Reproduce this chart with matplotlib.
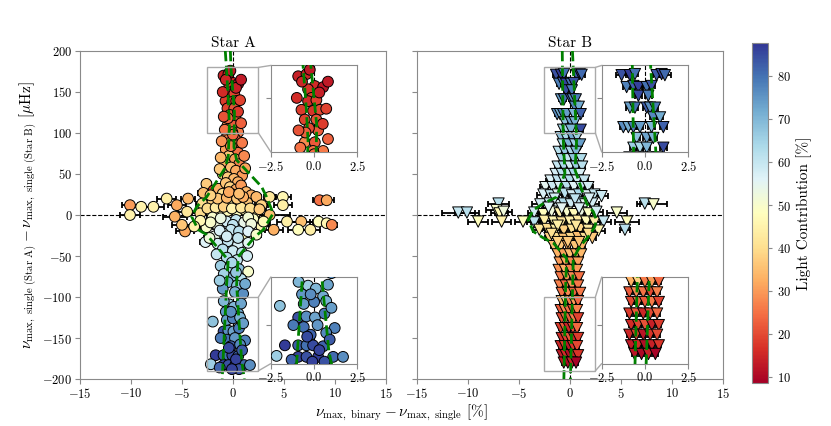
import numpy as np
import matplotlib.pyplot as plt
from matplotlib.patches import Rectangle, ConnectionPatch

plt.rcParams['font.family'] = ['cmr10', 'DejaVu Serif']
plt.rcParams['mathtext.fontset'] = 'cm'
plt.rcParams['axes.formatter.use_mathtext'] = True
plt.rcParams['axes.unicode_minus'] = True

# ---------------- Star A (circles) ----------------
a_dx = [-0.92, -0.44, -0.25, 0.04, 0.52, -0.35, -0.15, -0.35, 0.13, -0.73, -0.06, 0.33,
        -0.54, 0.13, 0.23, -0.30, -0.54, 0.04, 0.52, -0.06, -0.70, 0.30, -0.50, 0.50,
        -0.6, 0.2, -0.3, 0.4, -0.7, 0.0, 0.5, -0.4, 0.2, -0.8, 0.6, -0.2, 0.3, -1.0, 0.9, -0.5, 0.1, 0.5,
        -2.6, -1.9, -2.9, -1.4, -0.7, -0.3, 0.3, 0.8, 1.3, -1.0, 0.0, 1.8, 2.3, 3.6, 4.9, -6.5, -4.4,
        -10.1, -9.0, -7.8, -5.5, -3.0, -2.0, -1.2, -0.4, 0.5, 1.4, 2.8, 4.9, 8.5, 9.2,
        -10.1, -5.7, -4.5, -3.2, -2.2, -1.3, -0.5, 0.4, 1.2, 2.2, 3.6,
        -4.7, -5.0, -2.6, -1.5, -0.6, 0.3, 0.0, 1.1, 2.0, 5.3, 6.7, 8.4, 9.2, 9.7, 6.4, 7.6,
        4.0, 2.8, -0.2, 0.6, -1.0, 1.3, -1.8,
        -2.7, -1.5, -0.5, 0.5, 1.5, -1.0, 0.0, 0.9, -0.6, 0.4, -1.2, -0.3, 0.6, 1.5, -0.9, 0.1,
        0.8, -0.5, 0.4, -1.0, 0.2, 1.0,
        -0.35, 0.52, -0.7, 0.1, -1.98, -0.6, 0.0, 0.7, -0.92, -0.45, 0.05, 0.6, 1.19, -0.6,
        0.2, -0.2, 0.7, -1.69, -0.92, -0.44, -0.06, 0.52, -2.17, -0.92, -0.44, 0.23, 1.1, 1.67,
        # extra points filling the dense centre and the two columns
        -2.5, -1.7, -0.9, -0.1, 0.8, 1.7, 2.6, -1.5, -0.6, 0.4, 1.0, -2.2, -0.4, 0.6,
        -2.0, -1.2, 1.5, -2.2, 1.8, -1.3, 1.5, -0.6, 0.5, -2.3, 2.3, 3.0, -3.2, -3.8,
        -1.1, 0.9, -1.2, 1.1, -1.3, 1.2, 0.0, -0.2,
        -1.6, 1.4, -1.3, 1.2, -0.1, 0.3,
        -0.9, 0.8, -0.2, 1.0, -1.2, 0.9, -0.4, 0.3, -1.3, 0.6, -0.1,
        0.8, -1.0, 0.7, -0.9, 0.8, -0.8]
a_dnu = [170, 172, 176, 161, 160, 158, 150, 147, 148, 139, 138, 139,
         130, 130, 120, 122, 109, 109, 101, 101, 165, 155, 118, 126,
         95, 93, 88, 85, 80, 78, 76, 72, 68, 64, 62, 58, 54, 50, 48, 46, 44, 40,
         38, 30, 27, 32, 39, 34, 31, 36, 28, 26, 25, 24, 22, 22, 22, 20, 20,
         12, 10, 10, 12, 14, 16, 14, 15, 13, 15, 12, 12, 18, 18,
         0, -2, 4, 2, 5, 3, 5, 4, 6, 3, 0,
         -20, -12, -15, -13, -8, -6, -12, -9, -5, -8, -8, -8, -10, -12, -18, -18,
         -18, -14, -18, -20, -22, -28, -26,
         -33, -35, -32, -36, -34, -42, -44, -46, -52, -55, -62, -64, -66, -69, -72, -74,
         -78, -82, -86, -90, -94, -96,
         -109, -120, -118, -112, -130, -128, -126, -125, -142, -141, -142, -138, -153, -152,
         -150, -160, -158, -171, -171, -171, -171, -172, -182, -183, -183, -183, -183, -183,
         8, 9, 10, 8, 9, 8, 7, 20, 21, 20, 22, 24, 28, 26,
         -3, -4, -3, -9, -11, -19, -20, -26, -28, -28, -24, -8, -7, -14,
         90, 88, 70, 72, 56, 57, 98, 84,
         -48, -50, -80, -84, -58, -70,
         -105, -108, -118, -132, -150, -165, -162, -176, -186, -188, -188,
         165, 150, 140, 120, 112, 104]
a_err = [0.20, 0.15, 0.20, 0.15, 0.20, 0.15, 0.15, 0.20, 0.15, 0.20, 0.15, 0.15,
         0.20, 0.15, 0.15, 0.20, 0.20, 0.15, 0.20, 0.15, 0.20, 0.15, 0.20, 0.15,
         0.2, 0.2, 0.2, 0.2, 0.3, 0.2, 0.2, 0.2, 0.2, 0.3, 0.2, 0.2, 0.2, 0.3, 0.3, 0.2, 0.2, 0.2,
         0.4, 0.3, 0.5, 0.3, 0.2, 0.2, 0.2, 0.3, 0.3, 0.3, 0.3, 0.4, 0.5, 0.6, 0.8, 0.9, 0.7,
         0.8, 0.9, 1.0, 0.9, 0.6, 0.5, 0.4, 0.3, 0.3, 0.4, 0.6, 0.9, 0.6, 0.7,
         1.0, 1.2, 0.9, 0.8, 0.6, 0.5, 0.4, 0.4, 0.5, 0.7, 2.0,
         0.9, 1.0, 0.6, 0.5, 0.4, 0.3, 0.3, 0.4, 0.6, 1.0, 1.2, 0.8, 0.6, 0.5, 1.0, 0.9,
         0.9, 0.7, 0.3, 0.3, 0.4, 0.5, 0.5,
         0.5, 0.4, 0.3, 0.3, 0.4, 0.3, 0.3, 0.3, 0.2, 0.2, 0.3, 0.2, 0.2, 0.3, 0.2, 0.2,
         0.2, 0.2, 0.2, 0.2, 0.2, 0.2,
         0.15, 0.15, 0.15, 0.15, 0.20, 0.15, 0.15, 0.15, 0.20, 0.15, 0.15, 0.15, 0.20, 0.15,
         0.15, 0.15, 0.15, 0.20, 0.15, 0.15, 0.15, 0.15, 0.20, 0.15, 0.15, 0.15, 0.15, 0.20,
         0.6, 0.5, 0.4, 0.3, 0.4, 0.5, 0.6, 0.4, 0.3, 0.3, 0.3, 0.5, 0.3, 0.3,
         0.5, 0.4, 0.4, 0.5, 0.5, 0.4, 0.4, 0.3, 0.3, 0.5, 0.5, 0.6, 0.7, 0.8,
         0.2, 0.2, 0.2, 0.2, 0.3, 0.3, 0.2, 0.2,
         0.3, 0.3, 0.2, 0.2, 0.2, 0.2,
         0.15, 0.15, 0.15, 0.15, 0.15, 0.15, 0.15, 0.15, 0.15, 0.15, 0.15,
         0.15, 0.15, 0.15, 0.15, 0.15, 0.15]
a_light = [14, 15, 13, 16, 12, 17, 18, 16, 19, 18, 17, 20,
           19, 21, 22, 20, 28, 22, 26, 25, 15, 14, 23, 18,
           27, 24, 30, 23, 31, 28, 25, 36, 30, 33, 27, 35, 32, 38, 30, 37, 34, 33,
           37, 18, 35, 33, 36, 38, 32, 30, 34, 40, 42, 33, 34, 42, 46, 44, 34,
           30, 45, 45, 32, 40, 38, 42, 44, 40, 36, 38, 44, 25, 32,
           45, 33, 42, 40, 44, 46, 47, 48, 45, 43, 35,
           32, 36, 50, 52, 58, 60, 61, 54, 49, 44, 35, 48, 46, 28, 48, 44,
           33, 46, 60, 62, 55, 48, 54,
           56, 58, 60, 57, 55, 62, 59, 61, 63, 60, 66, 64, 68, 50, 65, 70,
           62, 72, 68, 74, 71, 76,
           66, 72, 75, 70, 68, 74, 78, 71, 84, 76, 73, 79, 78, 80,
           75, 82, 77, 87, 83, 80, 85, 82, 66, 86, 84, 87, 81, 76,
           40, 43, 38, 45, 42, 40, 37, 36, 34, 37, 33, 38, 32, 35,
           50, 53, 51, 50, 52, 57, 56, 58, 60, 52, 50, 47, 46, 45,
           29, 26, 34, 28, 37, 31, 24, 27,
           60, 58, 66, 72, 64, 67,
           70, 73, 76, 74, 79, 83, 85, 86, 82, 84, 86,
           13, 16, 19, 21, 23, 25]

# ---------------- Star B (triangles) ----------------
b_dx = [-1.35, -0.87, -0.58, 0.67, 0.96, 1.15,
        -1.06, -0.67, -0.38, 0.10, 0.38,
        -0.38, 0.19,
        -0.87, -0.58, 0.10, 0.29, 0.58,
        0.48, 0.87,
        -1.25, -0.96, -0.67, -0.29, 0.38, 1.06,
        -0.48, 0.10, 0.48,
        -0.67, -0.29, 0.10, 1.06,
        -0.9, -0.4, 0.2, 0.7,
        -0.7, -0.1, 0.5, 1.0,
        -1.1, -0.5, 0.1, 0.6,
        -0.8, -0.2, 0.4, 1.1,
        -1.2, -0.6, 0.0, 0.6, 1.2,
        -1.4, -0.8, -0.2, 0.4, 1.0,
        -1.9, -1.2, -0.6, 0.0, 0.7, 1.4,
        -2.4, -1.7, -1.0, -0.3, 0.4, 1.1, 1.8,
        -2.6, -1.9, -1.2, -0.5, 0.2, 0.9, 1.6, 2.4, 3.1,
        -7.0, -2.9, -2.0, -1.3, -0.6, 0.1, 0.8, 1.5, 2.2, 7.35, 8.2,
        -10.95, -10.1, -7.2, -6.9, -6.5, -3.5, -2.6, -1.8, -1.0, -0.3, 0.4, 1.1, 1.8, 2.6, 4.6,
        -9.0, -6.7, -4.6, -3.5, -2.5, -1.6, -0.8, 0.0, 0.8, 1.6, 2.4, 3.3, 5.6,
        -3.0, -2.2, -1.4, -0.6, 0.2, 1.0, 1.8, 2.8, 5.4,
        -2.0, -1.3, -0.6, 0.1, 0.8, 1.5, 2.2,
        -1.6, -0.9, -0.2, 0.5, 1.2,
        -1.2, -0.6, 0.0, 0.6, 1.1,
        -1.0, -0.4, 0.2, 0.8,
        -1.1, -0.5, 0.1, 0.7,
        -0.9, -0.3, 0.3, 0.9,
        -1.0, -0.4, 0.2, 0.8,
        -0.8, -0.2, 0.4, 1.0,
        -0.8, -0.4, 0.0, 0.4, 0.8,
        -0.9, -0.5, -0.1, 0.3, 0.7,
        -0.8, -0.4, 0.0, 0.4, 0.8,
        -0.9, -0.5, -0.1, 0.3, 0.7,
        -0.8, -0.4, 0.0, 0.4, 0.8,
        -0.9, -0.5, -0.1, 0.3, 0.7,
        -0.8, -0.4, 0.0, 0.4, 0.8,
        -0.6, -0.2, 0.2, 0.6,
        # extra points filling the dense centre
        -1.5, 0.5, 1.9, -0.8, 0.9, -2.1, -1.2, 0.6, 1.8, -1.8, -0.2, 0.9, -1.2]
b_dnu = [171, 171, 172, 171, 172, 171,
         160, 161, 160, 160, 161,
         152, 152,
         141, 141, 141, 141, 141,
         132, 132,
         123, 123, 123, 123, 123, 123,
         113, 113, 113,
         104, 104, 104, 104,
         95, 95, 95, 95,
         86, 86, 86, 86,
         77, 77, 77, 77,
         68, 68, 68, 68,
         59, 59, 59, 59, 59,
         50, 50, 50, 50, 50,
         42, 42, 42, 42, 42, 42,
         34, 34, 34, 34, 34, 34, 34,
         25, 24, 25, 26, 24, 25, 24, 25, 23,
         14, 13, 14, 12, 14, 13, 15, 13, 14, 14, 13,
         3, 3, 6, 2, 4, 3, 1, 4, 2, 3, 1, 3, 2, 4, 3,
         -8, -8, -8, -9, -7, -8, -9, -8, -7, -8, -9, -8, -8,
         -18, -17, -18, -19, -18, -17, -18, -19, -18,
         -28, -28, -29, -28, -27, -28, -28,
         -38, -38, -38, -38, -38,
         -48, -48, -48, -48, -48,
         -58, -58, -58, -58,
         -67, -67, -67, -67,
         -76, -76, -76, -76,
         -86, -86, -86, -86,
         -95, -95, -95, -95,
         -105, -105, -105, -105, -105,
         -116, -116, -116, -116, -116,
         -126, -126, -126, -126, -126,
         -138, -138, -138, -138, -138,
         -150, -150, -150, -150, -150,
         -160, -160, -160, -160, -160,
         -171, -171, -171, -171, -171,
         -180, -180, -180, -180,
         20, 19, 20, 8, 8, 9, -13, -13, -23, -23, -33, -33, -33]
b_err = [0.35, 0.2, 0.2, 0.2, 0.2, 0.35,
         0.2, 0.2, 0.2, 0.2, 0.2,
         0.2, 0.2,
         0.2, 0.2, 0.2, 0.2, 0.2,
         0.2, 0.2,
         0.2, 0.2, 0.2, 0.2, 0.2, 0.2,
         0.2, 0.2, 0.2,
         0.2, 0.2, 0.2, 0.2,
         0.2, 0.2, 0.2, 0.2,
         0.2, 0.2, 0.2, 0.2,
         0.2, 0.2, 0.2, 0.2,
         0.2, 0.2, 0.2, 0.2,
         0.3, 0.2, 0.2, 0.2, 0.3,
         0.3, 0.2, 0.2, 0.2, 0.3,
         0.4, 0.3, 0.2, 0.2, 0.3, 0.4,
         0.5, 0.4, 0.3, 0.3, 0.3, 0.4, 0.5,
         0.6, 0.5, 0.4, 0.3, 0.3, 0.3, 0.4, 0.5, 0.6,
         1.0, 0.8, 0.6, 0.4, 0.3, 0.3, 0.3, 0.5, 0.7, 0.8, 1.3,
         1.6, 1.2, 1.0, 0.8, 0.8, 0.6, 0.5, 0.4, 0.3, 0.3, 0.3, 0.4, 0.5, 0.6, 1.0,
         1.0, 0.9, 0.8, 0.7, 0.5, 0.4, 0.3, 0.3, 0.3, 0.4, 0.6, 0.7, 1.2,
         0.6, 0.5, 0.4, 0.3, 0.3, 0.3, 0.4, 0.6, 0.5,
         0.4, 0.3, 0.3, 0.3, 0.3, 0.3, 0.4,
         0.3, 0.2, 0.2, 0.2, 0.3,
         0.2, 0.2, 0.2, 0.2, 0.2,
         0.2, 0.2, 0.2, 0.2,
         0.2, 0.2, 0.2, 0.2,
         0.2, 0.2, 0.2, 0.2,
         0.2, 0.2, 0.2, 0.2,
         0.2, 0.2, 0.2, 0.2,
         0.15, 0.15, 0.15, 0.15, 0.15,
         0.15, 0.15, 0.15, 0.15, 0.15,
         0.15, 0.15, 0.15, 0.15, 0.15,
         0.15, 0.15, 0.15, 0.15, 0.15,
         0.15, 0.15, 0.15, 0.15, 0.15,
         0.15, 0.15, 0.15, 0.15, 0.15,
         0.15, 0.15, 0.15, 0.15, 0.15,
         0.15, 0.15, 0.15, 0.15,
         0.4, 0.3, 0.5, 0.3, 0.3, 0.5, 0.4, 0.3, 0.5, 0.5, 0.3, 0.3, 0.3]
b_light = [84, 87, 80, 83, 86, 81,
           78, 82, 86, 80, 84,
           85, 79,
           74, 80, 83, 76, 79,
           77, 72,
           76, 72, 79, 74, 70, 82,
           68, 73, 71,
           66, 64, 70, 85,
           68, 64, 72, 66,
           63, 70, 66, 74,
           62, 67, 64, 70,
           65, 60, 68, 63,
           60, 64, 58, 66, 62,
           58, 62, 60, 64, 57,
           56, 61, 59, 63, 58, 60,
           55, 59, 57, 62, 56, 60, 58,
           57, 60, 55, 62, 58, 64, 56, 60, 59,
           62, 58, 60, 57, 63, 59, 61, 55, 58, 62, 50,
           60, 62, 50, 47, 52, 58, 48, 52, 45, 50, 47, 53, 49, 58, 50,
           48, 45, 48, 62, 44, 46, 42, 45, 43, 47, 44, 60, 48,
           42, 40, 44, 38, 41, 39, 43, 46, 62,
           38, 40, 36, 39, 35, 41, 37,
           35, 37, 33, 36, 34,
           33, 31, 35, 32, 34,
           30, 32, 28, 31,
           29, 33, 27, 30,
           26, 30, 28, 25,
           27, 24, 29, 26,
           25, 28, 23, 26,
           33, 38, 26, 30, 24,
           22, 28, 25, 20, 27,
           20, 24, 22, 26, 19,
           18, 22, 15, 20, 24,
           16, 19, 21, 14, 18,
           15, 18, 12, 17, 20,
           13, 16, 11, 14, 17,
           12, 10, 14, 9,
           58, 61, 57, 55, 57, 56, 44, 42, 40, 41, 37, 36, 38]

# green dashed reference tracks (left / right branch) for each star
a_left_x = [-0.75, -0.64, -0.45, -0.35, -0.46, -0.78, -2.58, -3.56, -4.05, -3.4, -2.58, -0.46, -0.62, -0.95, -1.05]
a_left_y = [200, 180, 140, 110, 71, 57, 22, 10, -2, -18, -24, -55, -85, -173, -200]
a_right_x = [-0.25, -0.2, 0.15, 0.1, 0.36, 2.81, 3.3, 3.95, 2.97, 2.16, 0.52, 0.36, 0.85, 1.12]
a_right_y = [200, 181, 125, 83, 67, 34.5, 22, 2, -18, -26.5, -50.8, -85, -177, -200]
b_left_x = [-0.75, -0.65, -0.49, -1.3, -2.6, -3.6, -4.1, -3.6, -2.6, -1.6, -0.32, -0.42, -0.59]
b_left_y = [200, 91.5, 51, 22, 14, 6, -6, -20, -28, -34.5, -53, -87, -200]
b_right_x = [0.25, 0.66, 0.5, 1.64, 2.3, 2.6, 2.45, 1.96, 0.98, 0.33, 0.27, 0.05]
b_right_y = [200, 91.5, 55, 14, 4, -6, -14, -24, -38.6, -53, -87, -200]

LMIN, LMAX = 8.6, 87.7
SPINE = '#8a8a8a'


def draw_points(ax, dx, dnu, err, light, marker, size, curves):
    ax.axhline(0, color='k', ls='--', lw=0.8, zorder=1)
    ax.axvline(0, color='k', ls='--', lw=0.8, zorder=1)
    ax.errorbar(dx, dnu, xerr=err, fmt='none', ecolor='k', elinewidth=1.3,
                capsize=2.5, capthick=1.3, zorder=2)
    sc = ax.scatter(dx, dnu, c=light, cmap='RdYlBu', vmin=LMIN, vmax=LMAX,
                    marker=marker, s=size, edgecolors='k', linewidths=0.7, zorder=3)
    for cx, cy in curves:
        ax.plot(cx, cy, color='green', ls='--', lw=2, zorder=4)
    return sc


def style(ax):
    for sp in ax.spines.values():
        sp.set_color(SPINE)
    ax.tick_params(color=SPINE, labelsize=9, length=3.5, pad=2)


def add_zoom(fig, ax, pos, ylim, ytick, args):
    axins = ax.inset_axes(pos)
    draw_points(axins, *args)
    axins.set_xlim(-2.5, 2.5)
    axins.set_ylim(*ylim)
    axins.set_xticks([-2.5, 0.0, 2.5])
    axins.set_yticks([ytick])
    axins.set_yticklabels([])
    style(axins)
    ax.add_patch(Rectangle((-2.5, ylim[0]), 5.0, ylim[1] - ylim[0], fill=False,
                           ec='#aaaaaa', lw=1, zorder=5))
    for yy, fy in [(ylim[1], 1), (ylim[0], 0)]:
        con = ConnectionPatch(xyA=(2.5, yy), coordsA=ax.transData,
                              xyB=(0, fy), coordsB=axins.transAxes,
                              color='#aaaaaa', lw=1)
        fig.add_artist(con)


fig = plt.figure(figsize=(8.31, 4.26), dpi=100)
ax1 = fig.add_axes([0.0963, 0.1103, 0.368, 0.77])
ax2 = fig.add_axes([0.5018, 0.1103, 0.368, 0.77])

a_args = (a_dx, a_dnu, a_err, a_light, 'o', 60, [(a_left_x, a_left_y), (a_right_x, a_right_y)])
b_args = (b_dx, b_dnu, b_err, b_light, 'v', 66, [(b_left_x, b_left_y), (b_right_x, b_right_y)])

sc = draw_points(ax1, *a_args)
draw_points(ax2, *b_args)

for ax, title in [(ax1, 'Star A'), (ax2, 'Star B')]:
    ax.set_xlim(-15, 15)
    ax.set_ylim(-200, 200)
    ax.set_xticks(np.arange(-15, 16, 5))
    ax.set_yticks(np.arange(-200, 201, 50))
    ax.set_title(title, fontsize=11, pad=3)
    style(ax)
ax2.set_yticklabels([])

ax1.set_ylabel(r'$\nu_{\mathrm{max,\ single\ (Star\ A)}} - \nu_{\mathrm{max,\ single\ (Star\ B)}}$ [$\mu$Hz]',
               fontsize=11, labelpad=2)
fig.text(0.483, 0.008, r'$\nu_{\mathrm{max,\ binary}} - \nu_{\mathrm{max,\ single}}$ [%]',
         ha='center', va='bottom', fontsize=11)

add_zoom(fig, ax1, [0.624, 0.692, 0.283, 0.264], (100, 180), 150, a_args)
add_zoom(fig, ax1, [0.624, 0.047, 0.283, 0.264], (-190, -100), -150, a_args)
add_zoom(fig, ax2, [0.604, 0.692, 0.283, 0.264], (100, 180), 150, b_args)
add_zoom(fig, ax2, [0.604, 0.047, 0.283, 0.264], (-190, -100), -150, b_args)

cax = fig.add_axes([0.905, 0.101, 0.0193, 0.798])
cb = fig.colorbar(sc, cax=cax)
cb.set_ticks(np.arange(10, 81, 10))
cb.set_label('Light Contribution [%]', fontsize=11)
cb.outline.set_edgecolor(SPINE)
cax.tick_params(color=SPINE, labelsize=9, length=3)

fig.savefig('out.png', dpi=100)
